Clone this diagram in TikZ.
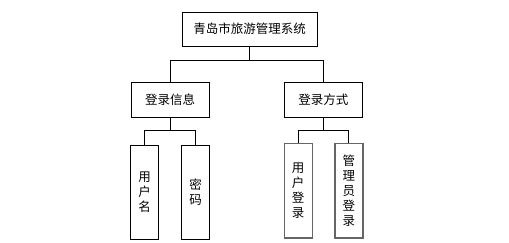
\documentclass[tikz,border=0pt]{standalone}
\usepackage{fontspec}
\setmainfont{Noto Sans CJK SC}
\usetikzlibrary{positioning}

\begin{document}
\begin{tikzpicture}[x=1pt, y=-1pt,
  box/.style={draw, line width=0.9pt, inner sep=0pt, font=\fontsize{12.5}{15}\selectfont},
  leaf/.style={box, minimum width=28pt, minimum height=94pt, align=center},
  leafgray/.style={leaf, draw=black!60, line width=1.4pt},
  link/.style={line width=0.9pt}]
\useasboundingbox (0,0) rectangle (509,243);

% Root
\node[box, minimum width=135pt, minimum height=34pt] (sys) at (249.5,29) {青岛市旅游管理系统};

% Second level
\node[box, minimum width=78pt, minimum height=35pt] (info) at (170,99.5) {登录信息};
\node[box, minimum width=78pt, minimum height=35pt] (mode) at (323.3,99.5) {登录方式};

% Leaves
\node[leaf] (user) at (144.5,192) {用\\户\\名};
\node[leaf] (pwd) at (195.5,192) {密\\码};
\node[leafgray] (ulogin) at (298.2,190.8) {用\\户\\登\\录};
\node[leafgray] (alogin) at (348.9,190.8) {管\\理\\员\\登\\录};

% Connectors
\coordinate (bar1) at (249.5,60);
\coordinate (bar2) at (170,130.5);
\coordinate (bar3) at (323.3,130.5);
\draw[link] (sys.south) -- (bar1);
\draw[link] (bar1) -| (info.north);
\draw[link] (bar1) -| (mode.north);
\draw[link] (info.south) -- (bar2);
\draw[link] (bar2) -| (user.north);
\draw[link] (bar2) -| (pwd.north);
\draw[link] (mode.south) -- (bar3);
\draw[link] (bar3) -| (ulogin.north);
\draw[link] (bar3) -| (alogin.north);
\end{tikzpicture}
\end{document}
